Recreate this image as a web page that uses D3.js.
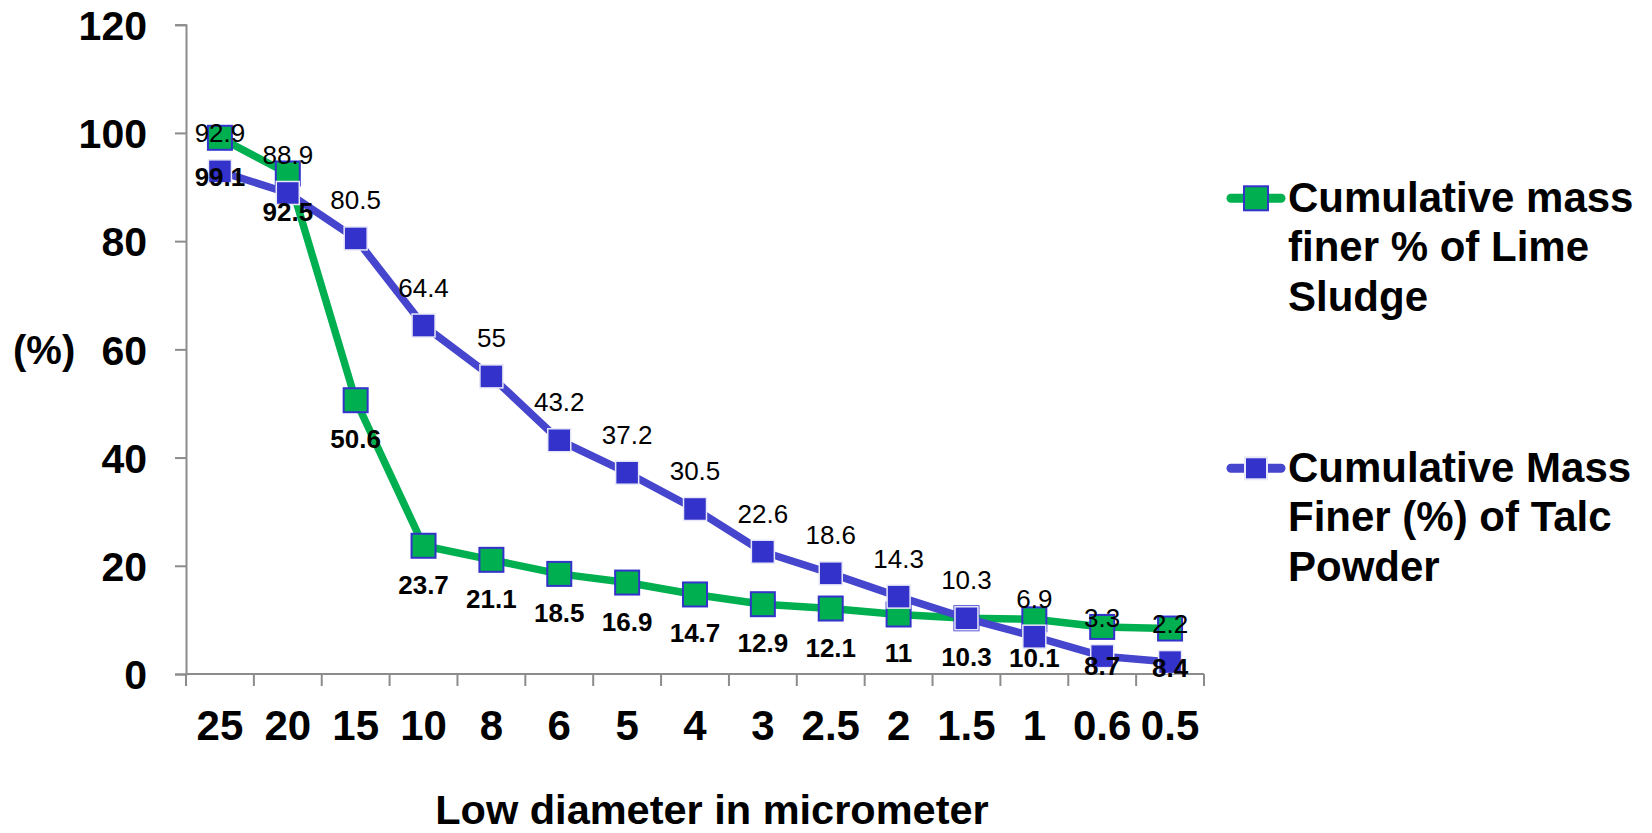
<!DOCTYPE html>
<html>
<head>
<meta charset="utf-8">
<script src="https://cdn.jsdelivr.net/npm/d3@7"></script>
<style>
  html, body { margin: 0; padding: 0; background: #fff; }
  svg { display: block; font-family: "Liberation Sans", Arial, sans-serif; }
</style>
</head>
<body>
<svg id="chart" width="1652" height="833"></svg>
<script>
// Particle size classes (micrometer), largest to smallest
const diameters = ["25", "20", "15", "10", "8", "6", "5", "4", "3", "2.5", "2", "1.5", "1", "0.6", "0.5"];
// Cumulative mass finer (%) of lime sludge
const limeSludge = [99.1, 92.5, 50.6, 23.7, 21.1, 18.5, 16.9, 14.7, 12.9, 12.1, 11, 10.3, 10.1, 8.7, 8.4];
// Cumulative mass finer (%) of talc powder
const talcPowder = [92.9, 88.9, 80.5, 64.4, 55, 43.2, 37.2, 30.5, 22.6, 18.6, 14.3, 10.3, 6.9, 3.3, 2.2];
const yTicks = [0, 20, 40, 60, 80, 100, 120];
const seriesNames = [
  ["Cumulative mass", "finer % of Lime", "Sludge"],
  ["Cumulative Mass", "Finer (%) of Talc", "Powder"]
];

const GREEN = "#00B050";
const BLUE_LINE = "#4545CD";
const BLUE_MARK = "#3333CC";
const AXIS = "#8c8c8c";

const svg = d3.select("#chart");

const x = d3.scaleBand().domain(diameters).range([186, 1204]).padding(0);
const y = d3.scaleLinear().domain([0, 120]).range([674, 24.7]);
const cx = d => x(d) + x.bandwidth() / 2;

// Y axis
const yAxis = svg.append("g")
  .attr("transform", "translate(186,0)")
  .call(d3.axisLeft(y).tickValues(yTicks).tickSize(11).tickPadding(28));
yAxis.select(".domain").attr("stroke", AXIS).attr("stroke-width", 2);
yAxis.selectAll(".tick line").attr("stroke", AXIS).attr("stroke-width", 2);
yAxis.selectAll(".tick text")
  .attr("fill", "#000")
  .style("font-size", "41px")
  .style("font-weight", "bold")
  .attr("dy", "0.36em")
  .attr("x", -39);

// X axis line with tick marks on category boundaries
const xAxis = svg.append("g").attr("transform", "translate(0,674)");
xAxis.append("line")
  .attr("x1", x.range()[0]).attr("x2", x.range()[1])
  .attr("stroke", AXIS).attr("stroke-width", 2);
const bounds = diameters.map(d => x(d)).concat([x.range()[1]]);
xAxis.selectAll("line.tk").data(bounds).join("line")
  .attr("class", "tk")
  .attr("x1", d => d).attr("x2", d => d)
  .attr("y1", 0).attr("y2", 12)
  .attr("stroke", AXIS).attr("stroke-width", 2);
xAxis.selectAll("text").data(diameters).join("text")
  .attr("x", d => cx(d))
  .attr("y", 66)
  .attr("text-anchor", "middle")
  .style("font-size", "42px")
  .style("font-weight", "bold")
  .text(d => d);

// Axis titles
svg.append("text")
  .attr("x", 712).attr("y", 824)
  .attr("text-anchor", "middle")
  .style("font-size", "41.5px").style("font-weight", "bold")
  .text("Low diameter in micrometer");
svg.append("text")
  .attr("x", 13).attr("y", 364)
  .style("font-size", "40px").style("font-weight", "bold")
  .text("(%)");

// Lines
const line = d3.line().x((d, i) => cx(diameters[i])).y(d => y(d));
svg.append("path").datum(limeSludge)
  .attr("d", line).attr("fill", "none")
  .attr("stroke", GREEN).attr("stroke-width", 7.5).attr("stroke-linejoin", "round");
svg.selectAll("rect.lime").data(limeSludge).join("rect")
  .attr("class", "lime")
  .attr("x", (d, i) => cx(diameters[i]) - 12).attr("y", d => y(d) - 12)
  .attr("width", 24).attr("height", 24)
  .attr("fill", GREEN).attr("stroke", BLUE_MARK).attr("stroke-width", 2);

svg.append("path").datum(talcPowder)
  .attr("d", line).attr("fill", "none")
  .attr("stroke", BLUE_LINE).attr("stroke-width", 7.5).attr("stroke-linejoin", "round");
svg.selectAll("rect.talc").data(talcPowder).join("rect")
  .attr("class", "talc")
  .attr("x", (d, i) => cx(diameters[i]) - 11.5).attr("y", d => y(d) - 11.5)
  .attr("width", 23).attr("height", 23)
  .attr("fill", BLUE_MARK).attr("stroke", "#E8E8F8").attr("stroke-width", 1.5);

// Value labels: lime sludge below (bold), talc powder above (regular)
svg.selectAll("text.limeLbl").data(limeSludge).join("text")
  .attr("class", "limeLbl")
  .attr("x", (d, i) => cx(diameters[i]))
  .attr("y", d => y(d) + 48)
  .attr("text-anchor", "middle")
  .style("font-size", "26px").style("font-weight", "bold")
  .text(d => d);
svg.selectAll("text.talcLbl").data(talcPowder).join("text")
  .attr("class", "talcLbl")
  .attr("x", (d, i) => cx(diameters[i]))
  .attr("y", d => y(d) - 29)
  .attr("text-anchor", "middle")
  .style("font-size", "26px")
  .text(d => d);

// Legend
const legend = [
  { name: seriesNames[0], line: GREEN, fill: GREEN, stroke: BLUE_MARK, size: 24, y: 198.3, base: 211.7 },
  { name: seriesNames[1], line: BLUE_LINE, fill: BLUE_MARK, stroke: "#E8E8F8", size: 22, y: 468.3, base: 481.7 }
];
const lg = svg.selectAll("g.leg").data(legend).join("g").attr("class", "leg");
lg.append("line")
  .attr("x1", 1231).attr("x2", 1281)
  .attr("y1", d => d.y).attr("y2", d => d.y)
  .attr("stroke", d => d.line).attr("stroke-width", 9).attr("stroke-linecap", "round");
lg.append("rect")
  .attr("x", d => 1256 - d.size / 2).attr("y", d => d.y - d.size / 2)
  .attr("width", d => d.size).attr("height", d => d.size)
  .attr("fill", d => d.fill).attr("stroke", d => d.stroke).attr("stroke-width", 2);
lg.each(function(d) {
  const t = d3.select(this).append("text")
    .attr("x", 1288).attr("y", d.base)
    .style("font-size", "42px").style("font-weight", "bold");
  t.selectAll("tspan").data(d.name).join("tspan")
    .attr("x", 1288)
    .attr("dy", (s, i) => i === 0 ? 0 : 49.4)
    .text(s => s);
});
</script>
</body>
</html>
